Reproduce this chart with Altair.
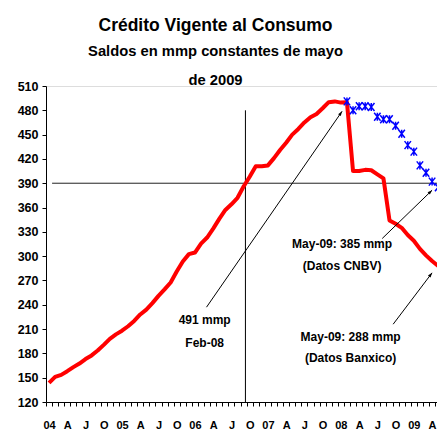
import math
import altair as alt
import pandas as pd

FONT = "Liberation Sans"

# Monthly index: 0 = Jan 2004 ... 64 = May 2009 (points at band centre k + 0.5)
red_values = [143.5, 151, 153.5, 158, 163, 167.5, 173, 177.5, 183.5, 190.5,
              198, 203.5, 208, 213.5, 220, 228, 234, 242, 251, 259,
              267.5, 281, 293.5, 302.5, 304.5, 315.5, 323, 334, 346, 357,
              364, 372, 386, 398, 411, 411, 412, 421, 431, 440,
              450, 457, 465, 471.5, 475.5, 482.5, 490, 491, 489.5, 490,
              405, 405, 406.5, 406, 401, 396, 344, 340, 335, 326,
              319, 309, 301, 294, 288]
blue_start = 49  # Feb 2008
blue_values = [491, 480, 485, 485, 484, 472, 469, 469, 461, 451, 437, 429,
               412, 403, 392, 385]
quarter_labels = ["04", "A", "J", "O", "05", "A", "J", "O", "06", "A", "J", "O",
                  "07", "A", "J", "O", "08", "A", "J", "O", "09", "A"]
y_ticks = list(range(120, 511, 30))

# reference lines
vline_k, vline_v1, vline_v2 = 32.8, 120, 480
hline_k1, hline_k2, hline_v = 1.0, 66, 390

# annotations (data units)
arrow_k1 = [26.4, 55.3, 57.1]
arrow_v1 = [237, 321.8, 216]
arrow_k2 = [48.7, 63.5, 63.5]
arrow_v2 = [478.8, 381.4, 279.4]
note_text = ["491 mmp", "Feb-08", "May-09: 385 mmp", "(Datos CNBV)",
             "May-09: 288 mmp", "(Datos Banxico)"]
note_k = [26.1, 26.1, 48.7, 48.7, 50.1, 50.1]
note_v = [221.7, 193.3, 314.8, 287.6, 200.1, 174.2]

PX_MONTH = 6.08
W, H = 391, 316
X_MAX = W / PX_MONTH
px_v = H / (510 - 120)

red_df = pd.DataFrame({"k": [i + 0.5 for i in range(len(red_values))], "v": red_values})
blue_df = pd.DataFrame({"k": [blue_start + i + 0.5 for i in range(len(blue_values))], "v": blue_values})
vline_df = pd.DataFrame({"k": [vline_k], "v": [vline_v1], "v2": [vline_v2]})
hline_df = pd.DataFrame({"k": [hline_k1], "k2": [hline_k2], "v": [hline_v]})
arrow_df = pd.DataFrame({"k": arrow_k1, "v": arrow_v1, "k2": arrow_k2, "v2": arrow_v2})
head_df = pd.DataFrame({
    "k": arrow_k2, "v": arrow_v2,
    "ang": [math.degrees(math.atan2((b - a) * PX_MONTH, (d - c) * px_v)) % 360
            for a, b, c, d in zip(arrow_k1, arrow_k2, arrow_v1, arrow_v2)],
})
note_df = pd.DataFrame({"k": note_k, "v": note_v, "t": note_text})

label_arr = ["" for _ in range(66)]
for i, lab in enumerate(quarter_labels):
    label_arr[3 * i] = lab
label_expr = "[" + ",".join("'" + s + "'" for s in label_arr) + "][datum.value]"

x_axis = alt.Axis(values=list(range(0, 65)), tickSize=4, labelPadding=13,
                  labelOffset=PX_MONTH / 2, labelExpr=label_expr, labelOverlap=False,
                  labelFlush=False, labelBound=False, grid=False, title=None, labelFont=FONT,
                  labelFontSize=11, labelFontWeight="bold", labelColor="black",
                  domainColor="black", tickColor="black")
y_axis = alt.Axis(values=y_ticks, tickSize=4, labelPadding=4, grid=False, title=None,
                  labelFont=FONT, labelFontSize=12.5, labelFontWeight="bold",
                  labelColor="black", domainColor="black", tickColor="black")
xs = alt.Scale(domain=[0, X_MAX], nice=False, zero=False)
ys = alt.Scale(domain=[120, 510], nice=False, zero=False)

X = alt.X("k:Q", scale=xs, axis=x_axis)
Y = alt.Y("v:Q", scale=ys, axis=y_axis)

vline = alt.Chart(vline_df).mark_rule(color="black", strokeWidth=1).encode(x=X, y=Y, y2="v2:Q")
hline = alt.Chart(hline_df).mark_rule(color="#222222", strokeWidth=1).encode(x=X, x2="k2:Q", y=Y)
red = alt.Chart(red_df).mark_line(color="#ff0000", strokeWidth=4, strokeJoin="round").encode(x=X, y=Y)
blue = alt.Chart(blue_df).mark_point(
    shape="M-0.8,-1L0.8,1M0.8,-1L-0.8,1M0,-1L0,1", filled=False, size=64,
    color="#0000ff", strokeWidth=1.5, opacity=1).encode(x=X, y=Y)
arrows = alt.Chart(arrow_df).mark_rule(color="black", strokeWidth=1).encode(x=X, y=Y, x2="k2:Q", y2="v2:Q")
heads = alt.Chart(head_df).mark_point(
    shape="M0,0L-0.6,1.7L0.6,1.7Z", filled=True, size=30, color="black", opacity=1
).encode(x=X, y=Y, angle=alt.Angle("ang:Q", scale=None))
notes = alt.Chart(note_df).mark_text(font=FONT, fontSize=12, fontWeight="bold",
                                     color="black", align="center", baseline="middle"
                                     ).encode(x=X, y=Y, text="t:N")

chart = alt.layer(vline, hline, red, blue, arrows, heads, notes).properties(
    width=W, height=H,
    title=alt.TitleParams(
        text="Crédito Vigente al Consumo",
        subtitle=["Saldos en mmp constantes de mayo", "de 2009"],
        font=FONT, fontSize=17.5, fontWeight="bold", color="black",
        subtitleFont=FONT, subtitleFontSize=14.75, subtitleFontWeight="bold",
        subtitleColor="black", subtitleLineHeight=29, subtitlePadding=10,
        anchor="middle", dx=-26, offset=-8,
    ),
    autosize=alt.AutoSizeParams(type="none"),
    padding={"left": 38, "top": 78, "right": 0, "bottom": 30},
).configure_view(stroke=None).configure(background="white")

chart.save("out.html", embed_options={"renderer": "svg", "actions": False})
